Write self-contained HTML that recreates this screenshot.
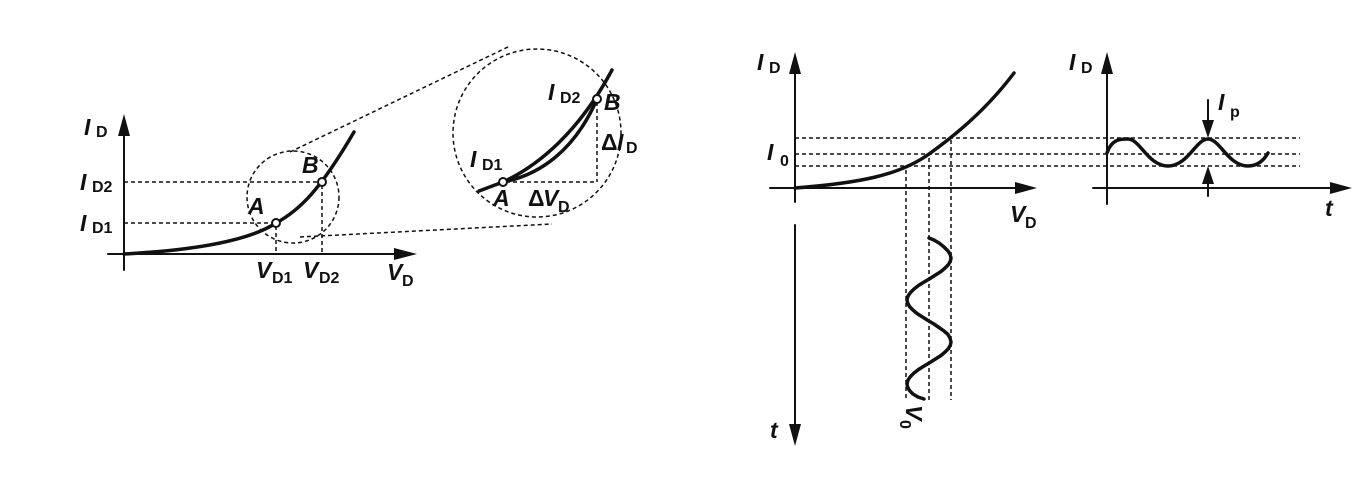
<!DOCTYPE html>
<html><head><style>
html,body{margin:0;padding:0;background:#fff;}
svg{display:block;}
text{font-family:"Liberation Sans",sans-serif;font-weight:bold;fill:#111;}
.i{font-style:italic;font-size:23px;}
.s{font-size:16px;}
</style></head><body>
<svg width="1372" height="502" viewBox="0 0 1372 502" xmlns="http://www.w3.org/2000/svg">
<g stroke="#111" fill="none" stroke-linejoin="round" stroke-linecap="round">
<!-- Left graph axes -->
<line x1="124" y1="128" x2="124" y2="270" stroke-width="2"/>
<polygon points="124,114 118,136 130,136" fill="#111" stroke="none"/>
<line x1="108" y1="254" x2="400" y2="254" stroke-width="2"/>
<polygon points="417,254 394,248 394,260" fill="#111" stroke="none"/>
<path d="M124,254 C200,250 250,240 276,223 C300,210 320,190 354,132" stroke-width="3.5"/>
<g stroke-dasharray="4,3" stroke-width="1.5" stroke-linecap="butt">
<line x1="124" y1="223" x2="273" y2="223"/>
<line x1="124" y1="182" x2="319" y2="182"/>
<line x1="276" y1="226" x2="276" y2="254"/>
<line x1="322" y1="185" x2="322" y2="254"/>
<circle cx="293" cy="197" r="46"/>
<circle cx="537" cy="133" r="84"/>
<line x1="290" y1="152" x2="510" y2="46"/>
<line x1="300" y1="237" x2="552" y2="224"/>
<line x1="506" y1="182" x2="597" y2="182"/>
<line x1="597" y1="102" x2="597" y2="182"/>
</g>
<circle cx="276" cy="223" r="4" fill="#fff" stroke-width="2"/>
<circle cx="322" cy="182" r="4" fill="#fff" stroke-width="2"/>
<!-- zoom -->
<path d="M479,191 L503,182 C540,165 580,130 612,70" stroke-width="3.5"/>
<path d="M503,182 C540,175 575,150 597,99" stroke-width="3.5"/>
<circle cx="503" cy="182" r="4" fill="#fff" stroke-width="2"/>
<circle cx="597" cy="99" r="4" fill="#fff" stroke-width="2"/>

<!-- Middle graph -->
<line x1="795" y1="66" x2="795" y2="202" stroke-width="2"/>
<polygon points="795,52 789,74 801,74" fill="#111" stroke="none"/>
<line x1="770" y1="188" x2="1020" y2="188" stroke-width="2"/>
<polygon points="1037,188 1015,182 1015,194" fill="#111" stroke="none"/>
<path d="M795,188 C860,183 900,175 929,154 C960,132 990,105 1014,73" stroke-width="3.5"/>
<line x1="795" y1="225" x2="795" y2="432" stroke-width="2"/>
<polygon points="795,446 789,424 801,424" fill="#111" stroke="none"/>
<g stroke-dasharray="4,3" stroke-width="1.5" stroke-linecap="butt">
<line x1="795" y1="138" x2="1300" y2="138"/>
<line x1="795" y1="154" x2="1300" y2="154"/>
<line x1="795" y1="166" x2="1300" y2="166"/>
<line x1="906" y1="170" x2="906" y2="400"/>
<line x1="929" y1="158" x2="929" y2="400"/>
<line x1="951" y1="140" x2="951" y2="400"/>
</g>
<polyline points="929,238 933.9,240 939,243 944,247 948,251 950,254 951,258 950.4,261 948.5,264.5 945.1,268 941,271.5 935.5,275 930,278.5 924.1,282 918.5,285.5 914,289 910.5,292.5 908,296 907,300 907.6,303 909.5,306.5 912.9,310 917,313.5 922.5,317 928,320.5 933.9,324 939,327.5 944,331 948,334.5 950,338 951,342 950.4,345 948.5,348.5 945.1,352 941,355.5 935.5,359 930,362.5 924.1,366 918.5,369.5 914,373 910.5,376.5 908,380 907,384 907.6,387 909.5,390.5 912.9,394 918,397 924,399" stroke-width="3.5"/>
<!-- Right graph -->
<line x1="1107" y1="66" x2="1107" y2="204" stroke-width="2"/>
<polygon points="1107,52 1101,74 1113,74" fill="#111" stroke="none"/>
<line x1="1093" y1="188" x2="1335" y2="188" stroke-width="2"/>
<polygon points="1352,188 1330,182 1330,194" fill="#111" stroke="none"/>
<path d="M1107,153 C1112,138 1122,139 1128,139 C1140,139 1148,166 1168,166 C1188,166 1196,139 1208,139 C1220,139 1228,166 1248,166 C1258,166 1264,160 1268,153" stroke-width="3.5"/>
<line x1="1208" y1="100" x2="1208" y2="125" stroke-width="2"/>
<polygon points="1208,138 1202,120 1214,120" fill="#111" stroke="none"/>
<line x1="1208" y1="180" x2="1208" y2="196" stroke-width="2"/>
<polygon points="1208,166 1202,184 1214,184" fill="#111" stroke="none"/>
</g>
<!-- Labels -->
<text x="84" y="135" class="i">I</text><text x="96" y="137" class="s">D</text>
<text x="80" y="190" class="i">I</text><text x="92" y="192" class="s">D2</text>
<text x="80" y="231" class="i">I</text><text x="92" y="233" class="s">D1</text>
<text x="248" y="214" class="i">A</text>
<text x="302" y="173" class="i">B</text>
<text x="256" y="278" class="i">V</text><text x="272" y="283" class="s">D1</text>
<text x="303" y="278" class="i">V</text><text x="319" y="283" class="s">D2</text>
<text x="387" y="280" class="i">V</text><text x="402" y="286" class="s">D</text>
<text x="548" y="100" class="i">I</text><text x="560" y="103" class="s">D2</text>
<text x="470" y="167" class="i">I</text><text x="482" y="170" class="s">D1</text>
<text x="604" y="110" class="i">B</text>
<text x="493" y="206" class="i">A</text>
<text x="528" y="206" font-size="23" font-weight="normal">Δ</text><text x="543" y="206" class="i">V</text><text x="558" y="212" class="s">D</text>
<text x="601" y="150" font-size="23" font-weight="normal">Δ</text><text x="617" y="150" class="i">I</text><text x="626" y="153" class="s">D</text>
<text x="757" y="70" class="i">I</text><text x="769" y="73" class="s">D</text>
<text x="767" y="160" class="i">I</text><text x="780" y="166" class="s">0</text>
<text x="1010" y="222" class="i">V</text><text x="1025" y="228" class="s">D</text>
<text x="1069" y="70" class="i">I</text><text x="1081" y="73" class="s">D</text>
<text x="1218" y="110" class="i">I</text><text x="1230" y="117" class="s">p</text>
<text x="1325" y="216" class="i">t</text>
<text x="770" y="438" class="i">t</text>
<g transform="translate(906,405) rotate(90)"><text x="0" y="0" class="i">V</text><text x="15" y="6" class="s">0</text></g>
</svg>
</body></html>
